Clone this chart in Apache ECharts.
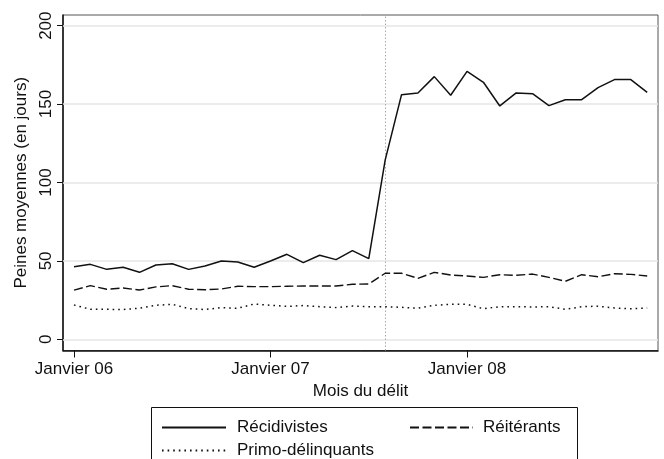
<!DOCTYPE html>
<html>
<head>
<meta charset="utf-8">
<script src="https://cdn.jsdelivr.net/npm/echarts@6/dist/echarts.min.js"></script>
<style>
  html, body { margin: 0; padding: 0; background: #fff; }
  #chart { width: 664px; height: 459px; }
</style>
</head>
<body>
<div id="chart"></div>
<script>
// Months: index 0 = Janvier 2006 ... 35 = Décembre 2008
const monthIndex = Array.from({length: 36}, (_, i) => i);
const tickMonths = [0, 12, 24];
const tickLabels = ['Janvier 06', 'Janvier 07', 'Janvier 08'];
const yTicks = [0, 50, 100, 150, 200];
const reformMonth = 19;

const recidivistes = [46.3, 47.8, 44.6, 45.9, 42.7, 47.4, 48.2, 44.6, 46.7, 49.9, 49.3, 45.9,
                      49.9, 54.2, 48.9, 53.6, 50.8, 56.5, 51.4, 114.3, 156.0, 157.1, 167.5, 155.6,
                      170.9, 163.9, 148.8, 157.1, 156.6, 149.0, 152.8, 152.8, 160.5, 165.6, 165.6, 157.5];
const reiterants = [31.4, 34.2, 31.9, 32.7, 31.4, 33.4, 34.2, 31.9, 31.6, 32.1, 33.8, 33.6,
                    33.6, 33.8, 34.0, 34.0, 34.0, 35.1, 35.3, 42.1, 42.1, 38.9, 42.7, 41.0,
                    40.4, 39.5, 41.2, 40.8, 41.6, 39.5, 37.0, 41.2, 39.9, 41.8, 41.4, 40.4];
const primo = [21.9, 19.1, 19.1, 19.0, 19.8, 21.7, 22.3, 19.6, 19.0, 20.2, 19.8, 22.5,
               21.7, 21.0, 21.5, 20.8, 20.2, 21.2, 20.8, 20.8, 20.4, 19.8, 21.7, 22.3,
               22.3, 19.5, 20.8, 20.8, 20.6, 20.8, 19.1, 20.8, 21.1, 20.0, 19.5, 20.0];

const seriesNames = ['Récidivistes', 'Réitérants', 'Primo-délinquants'];

const FONT = 'Liberation Sans, Arial, sans-serif';
const pair = arr => monthIndex.map(i => [i, arr[i]]);

const legendText = pad => ({ fontSize: 17, color: '#111', fontFamily: FONT, padding: [0, 0, 0, pad] });
const legendCommon = { itemHeight: 10, itemStyle: { opacity: 0 }, selectedMode: false };

const chart = echarts.init(document.getElementById('chart'), null, {renderer: 'canvas'});
chart.setOption({
  animation: false,
  backgroundColor: '#fff',
  textStyle: { fontFamily: FONT },
  grid: {
    left: 63, right: 6, top: 15, bottom: 108.5,
    show: true, borderColor: '#555', borderWidth: 1, backgroundColor: '#fff'
  },
  xAxis: {
    type: 'value',
    min: -0.672, max: 35.66,
    name: 'Mois du délit',
    nameLocation: 'middle',
    nameGap: 24,
    nameTextStyle: { fontSize: 17, color: '#111', fontFamily: FONT },
    axisLine: { show: true, onZero: false, lineStyle: { color: '#111', width: 1.5 } },
    axisTick: { show: true, length: 7, customValues: tickMonths, lineStyle: { color: '#111', width: 1 } },
    axisLabel: {
      show: true, customValues: tickMonths, margin: 10,
      fontSize: 17, color: '#111', fontFamily: FONT,
      formatter: v => tickLabels[tickMonths.indexOf(Math.round(v))] || ''
    },
    splitLine: { show: false }
  },
  yAxis: {
    type: 'value',
    min: -7.14, max: 206.8,
    name: 'Peines moyennes (en jours)',
    nameLocation: 'middle',
    nameRotate: 90,
    nameGap: 14,
    nameTextStyle: { fontSize: 17, color: '#111', fontFamily: FONT },
    axisLine: { show: true, onZero: false, lineStyle: { color: '#111', width: 1.5 } },
    axisTick: { show: true, length: 6, customValues: yTicks, lineStyle: { color: '#111', width: 1 } },
    axisLabel: {
      show: true, customValues: yTicks, rotate: 90, margin: 8,
      fontSize: 17, color: '#111', fontFamily: FONT
    },
    splitLine: { show: false }
  },
  legend: [
    Object.assign({ data: [seriesNames[0]], left: 156, top: 414, itemWidth: 64, textStyle: legendText(6) }, legendCommon),
    Object.assign({ data: [seriesNames[1]], left: 404, top: 414, itemWidth: 63, textStyle: legendText(5) }, legendCommon),
    Object.assign({ data: [seriesNames[2]], left: 156, top: 437, itemWidth: 64, textStyle: legendText(6) }, legendCommon)
  ],
  graphic: [
    { type: 'rect', left: 149, top: 405, shape: { width: 426, height: 80 },
      style: { fill: 'none', stroke: '#111', lineWidth: 1 }, silent: true, z: 0 }
  ],
  series: [
    {
      name: seriesNames[0], type: 'line', data: pair(recidivistes),
      symbol: 'none', lineStyle: { color: '#111', width: 1.5, type: 'solid' },
      itemStyle: { color: '#111' }, z: 5,
      markLine: {
        silent: true, symbol: 'none', label: { show: false }, z: 1,
        data: [
          ...yTicks.map(v => ({ yAxis: v, lineStyle: { color: '#e6e6e6', width: 1.5, type: 'solid' } })),
          { xAxis: reformMonth, lineStyle: { color: '#aaa', width: 1, type: [1.5, 2] } }
        ]
      }
    },
    {
      name: seriesNames[1], type: 'line', data: pair(reiterants),
      symbol: 'none', lineStyle: { color: '#111', width: 1.4, type: [9, 3.5], cap: 'butt' },
      itemStyle: { color: '#111' }, z: 5
    },
    {
      name: seriesNames[2], type: 'line', data: pair(primo),
      symbol: 'none', lineStyle: { color: '#111', width: 1.5, type: [1.6, 4], cap: 'butt' },
      itemStyle: { color: '#111' }, z: 5
    }
  ]
});
</script>
</body>
</html>
